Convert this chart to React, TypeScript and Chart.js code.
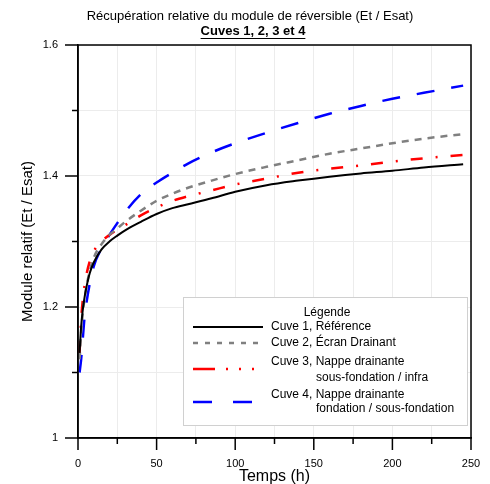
import React, { useEffect, useRef } from "react";
import { Chart, registerables } from "chart.js";
Chart.register(...registerables);

const times = [1, 2, 3, 4, 5, 7.5, 10, 15, 20, 25, 30, 40, 50, 60, 70, 85, 100, 120, 140, 160, 180, 200, 220, 245];
const cuve1 = [1.13, 1.17, 1.195, 1.212, 1.226, 1.252, 1.268, 1.288, 1.3, 1.309, 1.317, 1.33, 1.342, 1.351, 1.357, 1.366, 1.376, 1.386, 1.393, 1.399, 1.404, 1.408, 1.413, 1.418];
const cuve2 = [1.12, 1.16, 1.19, 1.21, 1.226, 1.255, 1.275, 1.296, 1.31, 1.32, 1.33, 1.347, 1.362, 1.373, 1.382, 1.393, 1.403, 1.414, 1.424, 1.434, 1.442, 1.45, 1.457, 1.464];
const cuve3 = [1.13, 1.18, 1.21, 1.23, 1.245, 1.27, 1.285, 1.3, 1.31, 1.318, 1.325, 1.34, 1.352, 1.362, 1.369, 1.378, 1.387, 1.396, 1.405, 1.411, 1.416, 1.422, 1.427, 1.432];
const cuve4 = [1.1, 1.12, 1.15, 1.18, 1.2, 1.236, 1.262, 1.29, 1.31, 1.328, 1.345, 1.372, 1.39, 1.405, 1.419, 1.436, 1.45, 1.466, 1.481, 1.495, 1.507, 1.518, 1.527, 1.538];

const seriesLabels = [
  ["Cuve 1, Référence"],
  ["Cuve 2, Écran Drainant"],
  ["Cuve 3, Nappe drainante", "sous-fondation / infra"],
  ["Cuve 4, Nappe drainante", "fondation / sous-fondation"],
];
const xTickLabels = ["0", "50", "100", "150", "200", "250"];
const yTickLabels = ["1", "1.2", "1.4", "1.6"];
const titleLine1 = "Récupération relative du module de réversible (Et / Esat)";
const titleLine2 = "Cuves 1, 2, 3 et 4";
const xTitle = "Temps (h)";
const yTitle = "Module relatif (Et / Esat)";
const legendTitle = "Légende";

const FONT = "'Liberation Sans', Arial, Helvetica, sans-serif";
const colors = ["#000000", "#808080", "#ff0000", "#0000ff"];
const widths = [2, 2.5, 2.5, 2.5];
const dashes = [[], [7, 6], [12, 13, 2, 13], [18, 17]];
const legendDashes = [[], [5, 7], [22, 11, 2, 11, 2, 11, 2, 11], [19, 21]];

const decorPlugin = {
  id: "decor",
  afterDraw(chart: any) {
    const ctx = chart.ctx as CanvasRenderingContext2D;
    const ca = chart.chartArea;
    const xs = chart.scales.x;
    const ys = chart.scales.y;
    ctx.save();
    // frame
    ctx.strokeStyle = "#000";
    ctx.lineWidth = 1.5;
    ctx.setLineDash([]);
    ctx.strokeRect(ca.left, ca.top, ca.right - ca.left, ca.bottom - ca.top);
    // y ticks
    for (let k = 0; k <= 6; k++) {
      const v = 1 + k * 0.1;
      const py = ys.getPixelForValue(v);
      const len = k % 2 === 0 ? 13 : 6;
      ctx.beginPath();
      ctx.moveTo(ca.left - len, py);
      ctx.lineTo(ca.left, py);
      ctx.stroke();
    }
    for (let k = 0; k <= 10; k++) {
      const v = k * 25;
      const px = xs.getPixelForValue(v);
      const len = k % 2 === 0 ? 12 : 6;
      ctx.beginPath();
      ctx.moveTo(px, ca.bottom);
      ctx.lineTo(px, ca.bottom + len);
      ctx.stroke();
    }
    // titles
    ctx.fillStyle = "#000";
    ctx.textAlign = "center";
    ctx.textBaseline = "middle";
    ctx.font = `13px ${FONT}`;
    ctx.fillText(titleLine1, 250, 16);
    ctx.font = `bold 13px ${FONT}`;
    ctx.fillText(titleLine2, 253, 31);
    const w2 = ctx.measureText(titleLine2).width;
    ctx.lineWidth = 1;
    ctx.beginPath();
    ctx.moveTo(253 - w2 / 2, 38.5);
    ctx.lineTo(253 + w2 / 2, 38.5);
    ctx.stroke();
    // axis titles
    ctx.font = `16px ${FONT}`;
    ctx.fillText(xTitle, (ca.left + ca.right) / 2, 477);
    ctx.save();
    ctx.translate(28, (ca.top + ca.bottom) / 2);
    ctx.rotate(-Math.PI / 2);
    ctx.font = `15px ${FONT}`;
    ctx.fillText(yTitle, 0, 0);
    ctx.restore();
    // legend
    const bx = ca.left + 105;
    const by = ca.top + 252;
    ctx.fillStyle = "#fff";
    ctx.fillRect(bx, by, 284, 128);
    ctx.strokeStyle = "#d0d0d0";
    ctx.lineWidth = 1;
    ctx.strokeRect(bx + 0.5, by + 0.5, 284, 128);
    ctx.fillStyle = "#000";
    ctx.font = `12px ${FONT}`;
    ctx.textAlign = "center";
    ctx.fillText(legendTitle, bx + 144, by + 16);
    ctx.textAlign = "left";
    const rows = [
      { sample: 30, lines: [30] },
      { sample: 46, lines: [46] },
      { sample: 72, lines: [65, 81] },
      { sample: 105, lines: [98, 112] },
    ];
    rows.forEach((r, i) => {
      ctx.strokeStyle = colors[i];
      ctx.lineWidth = widths[i];
      ctx.setLineDash(legendDashes[i]);
      ctx.beginPath();
      ctx.moveTo(bx + 10, by + r.sample);
      ctx.lineTo(bx + 80, by + r.sample);
      ctx.stroke();
      ctx.setLineDash([]);
      ctx.fillStyle = "#000";
      seriesLabels[i].forEach((t, j) => {
        ctx.fillText(t, bx + (j === 0 ? 88 : 133), by + r.lines[j]);
      });
    });
    ctx.restore();
  },
};

export default function App() {
  const ref = useRef<HTMLCanvasElement>(null);
  useEffect(() => {
    if (!ref.current) return;
    const series = [cuve1, cuve2, cuve3, cuve4];
    const chart = new Chart(ref.current, {
      type: "line",
      data: {
        datasets: series.map((s, i) => ({
          label: seriesLabels[i].join(" "),
          data: times.map((t, k) => ({ x: t, y: s[k] })),
          borderColor: colors[i],
          borderWidth: widths[i],
          borderDash: dashes[i],
          pointRadius: 0,
          fill: false,
          cubicInterpolationMode: "monotone" as const,
        })),
      },
      options: {
        responsive: false,
        animation: false,
        layout: { padding: { top: 45, right: 19, left: 0, bottom: 0 } },
        plugins: { legend: { display: false }, title: { display: false }, tooltip: { enabled: false } },
        scales: {
          x: {
            type: "linear",
            min: 0,
            max: 250,
            afterFit: (s: any) => { s.height = 46; },
            ticks: {
              stepSize: 25,
              autoSkip: false,
              maxRotation: 0,
              padding: 6,
              color: "#000",
              font: { family: FONT, size: 11 },
              callback: (v: any) => (Number(v) % 50 === 0 ? xTickLabels[Number(v) / 50] : ""),
            },
            grid: { color: "#ececec", lineWidth: 1, tickLength: 13, tickColor: "rgba(0,0,0,0)" },
            border: { display: true, color: "#000", width: 1.5 },
          },
          y: {
            type: "linear",
            min: 1,
            max: 1.6,
            afterFit: (s: any) => { s.width = 78; },
            ticks: {
              stepSize: 0.1,
              autoSkip: false,
              padding: 7,
              color: "#000",
              font: { family: FONT, size: 11 },
              callback: (v: any) => {
                const k = Math.round((Number(v) - 1) * 10);
                return k % 2 === 0 ? yTickLabels[k / 2] : "";
              },
            },
            grid: { color: "#ececec", lineWidth: 1, tickLength: 13, tickColor: "rgba(0,0,0,0)" },
            border: { display: true, color: "#000", width: 1.5 },
          },
        },
      },
      plugins: [decorPlugin],
    });
    return () => chart.destroy();
  }, []);
  return (
    <div style={{ position: "fixed", left: 0, top: 0, width: 490, height: 484, background: "#fff" }}>
      <canvas ref={ref} width={490} height={484} style={{ width: 490, height: 484 }} />
    </div>
  );
}
